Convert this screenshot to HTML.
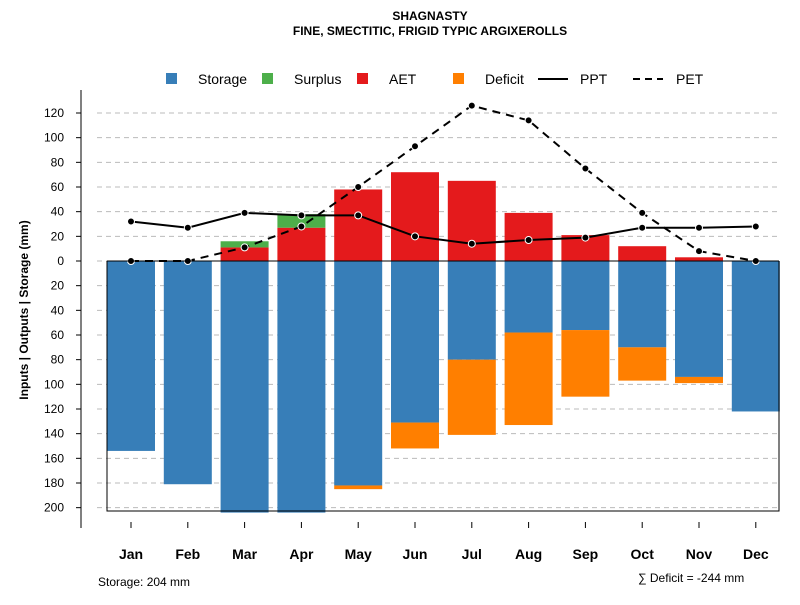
<!DOCTYPE html>
<html><head><meta charset="utf-8"><style>
body{margin:0;background:#fff;font-family:"Liberation Sans",sans-serif}
</style></head><body>
<svg id="chart" width="800" height="600" xmlns="http://www.w3.org/2000/svg" font-family="Liberation Sans, sans-serif">
<text x="430" y="20" text-anchor="middle" font-size="12" font-weight="bold">SHAGNASTY</text>
<text x="430" y="35" text-anchor="middle" font-size="12" font-weight="bold">FINE, SMECTITIC, FRIGID TYPIC ARGIXEROLLS</text>
<g id="grid"></g><g id="bars"></g><g id="lines"></g><g id="axes"></g>
<g font-size="14">
<rect x="166" y="73" width="11" height="11" fill="#377eb8"/><text x="198" y="84">Storage</text>
<rect x="262" y="73" width="11" height="11" fill="#4daf4a"/><text x="294" y="84">Surplus</text>
<rect x="357" y="73" width="11" height="11" fill="#e41a1c"/><text x="389" y="84">AET</text>
<rect x="453" y="73" width="11" height="11" fill="#ff7f00"/><text x="485" y="84">Deficit</text>
<line x1="538" y1="79" x2="568" y2="79" stroke="#000" stroke-width="2"/><text x="580" y="84">PPT</text>
<line x1="633" y1="79" x2="663" y2="79" stroke="#000" stroke-width="2" stroke-dasharray="7,5"/><text x="676" y="84">PET</text>
</g>
<text transform="translate(28,310) rotate(-90)" text-anchor="middle" font-size="12" font-weight="bold">Inputs | Outputs | Storage    (mm)</text>
<text x="98" y="586" font-size="12">Storage: 204 mm</text>
<text x="638" y="582" font-size="12">∑ Deficit = -244 mm</text>
</svg>
<script>
const months=["Jan","Feb","Mar","Apr","May","Jun","Jul","Aug","Sep","Oct","Nov","Dec"];
const storage=[154,181,204,204,182,131,80,58,56,70,94,122];
const deficit=[0,0,0,0,3,21,61,75,54,27,5,0];
const aet=[0,0,11,27,58,72,65,39,21,12,3,0];
const surplus=[0,0,5,11,0,0,0,0,0,0,0,0];
const ppt=[32,27,39,37,37,20,14,17,19,27,27,28];
const pet=[0,0,11,28,60,93,126,114,75,39,8,0];
const yTicks=[120,100,80,60,40,20,0,-20,-40,-60,-80,-100,-120,-140,-160,-180,-200];
const NS="http://www.w3.org/2000/svg";
const y=v=>261-v*1.2333;
const x=i=>131+i*56.8;
const bw=48;
function mk(t,a,p){const e=document.createElementNS(NS,t);for(const k in a)e.setAttribute(k,a[k]);p.appendChild(e);return e;}
const G=document.getElementById('grid'),B=document.getElementById('bars'),L=document.getElementById('lines'),A=document.getElementById('axes');
yTicks.forEach(v=>{
 const l=mk('line',{x1:97,x2:780,y1:y(v),y2:y(v),stroke:'#bbb','stroke-dasharray':'5,4'},G);
 
 
 const tk=mk('line',{x1:76,x2:81,y1:y(v),y2:y(v),stroke:'#000'},A);
 
 
 const t=mk('text',{x:64,y:y(v)+4,'text-anchor':'end','font-size':12},A);
 t.textContent=Math.abs(v);
 
 
});
months.forEach((m,i)=>{
 const cx=x(i);
 const r1=mk('rect',{x:cx-bw/2,y:y(0),width:bw,height:y(-storage[i])-y(0),fill:'#377eb8'},B);
 
 
 if(deficit[i]){const r=mk('rect',{x:cx-bw/2,y:y(-storage[i]),width:bw,height:y(-storage[i]-deficit[i])-y(-storage[i]),fill:'#ff7f00'},B);
 
 }
 if(aet[i]){const r=mk('rect',{x:cx-bw/2,y:y(aet[i]),width:bw,height:y(0)-y(aet[i]),fill:'#e41a1c'},B);
 
 }
 if(surplus[i]){const r=mk('rect',{x:cx-bw/2,y:y(aet[i]+surplus[i]),width:bw,height:y(aet[i])-y(aet[i]+surplus[i]),fill:'#4daf4a'},B);
 
 }
 const tk=mk('line',{x1:cx,x2:cx,y1:522,y2:528,stroke:'#000'},A);
 
 
 const t=mk('text',{x:cx,y:559,'text-anchor':'middle','font-size':14,'font-weight':'bold'},A);
 t.textContent=m;
 
 
});
const zl=mk('line',{x1:107,x2:779,y1:261,y2:261,stroke:'#000'},A);


const box=mk('polyline',{points:'107,261 107,511 779,511 779,261',fill:'none',stroke:'#000'},A);


const ya=mk('line',{x1:81,x2:81,y1:90,y2:528,stroke:'#000'},A);


function series(d,name,dash){
 const p=mk('polyline',{points:d.map((v,i)=>x(i)+','+y(v)).join(' '),fill:'none',stroke:'#000','stroke-width':2,'stroke-dasharray':dash||'none'},L);
 
 
 d.forEach((v,i)=>{const c=mk('circle',{cx:x(i),cy:y(v),r:3.5,fill:'#000',stroke:'#fff','stroke-width':1},L);
 
 });
}
series(ppt,'ppt');
series(pet,'pet','8,6');
</script>
</body></html>
